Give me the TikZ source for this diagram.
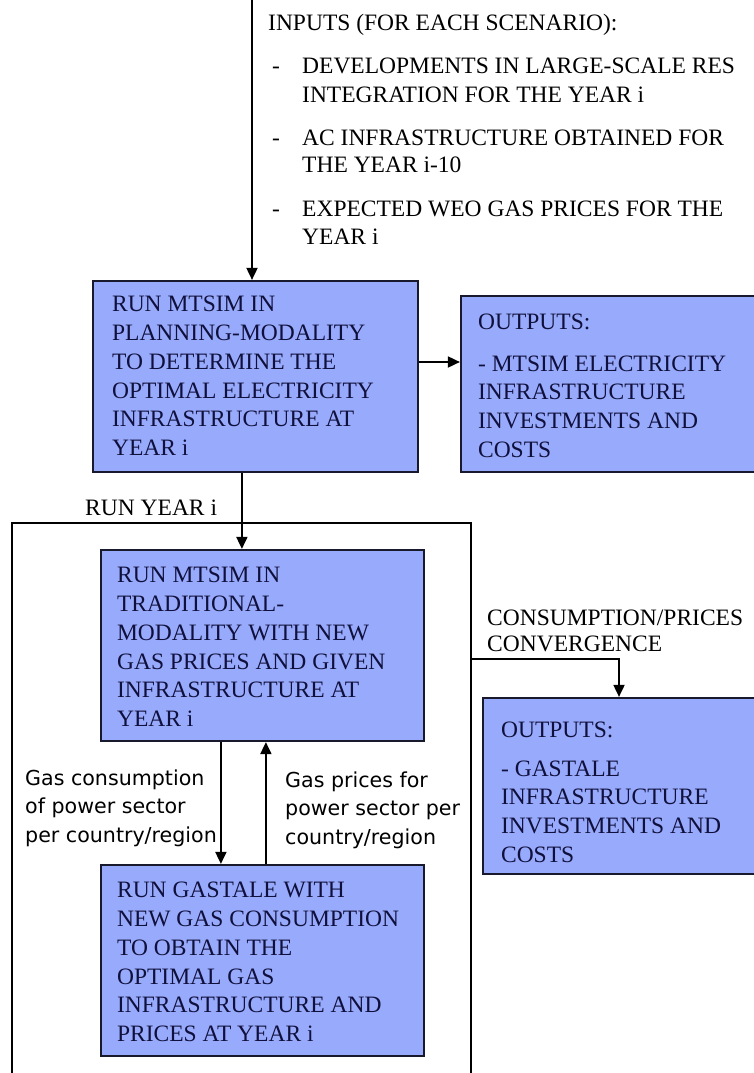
\documentclass[tikz,border=0pt]{standalone}
\usepackage{fontspec}
\setmainfont{Liberation Serif}
\newfontfamily\labelsans{DejaVu Sans}
\usetikzlibrary{arrows.meta,calc}
\definecolor{boxfill}{RGB}{152,170,252}
\definecolor{boxline}{RGB}{25,25,45}
\definecolor{boxtext}{RGB}{16,16,60}
\newcommand\mylines[1]{\begin{tabular}[t]{@{}l@{}}#1\end{tabular}}
\begin{document}
\begin{tikzpicture}[x=1pt,y=-1pt,
  box/.style={draw=boxline, line width=2.2pt, fill=boxfill, inner sep=0pt},
  btxt/.style={anchor=base west, inner sep=0pt, text=boxtext, font=\fontsize{23.5}{28.7}\selectfont},
  otxt/.style={anchor=base west, inner sep=0pt, text=black, font=\fontsize{23.5}{28.6}\selectfont},
  stxt/.style={anchor=base west, inner sep=0pt, text=black, font=\labelsans\fontsize{20.6}{28.6}\selectfont},
  conn/.style={line width=1.8pt, draw=black},
  arr/.style={conn, -{Triangle[length=12pt,width=11pt]}}]

\useasboundingbox (0,0) rectangle (754,1073);

% boxes
\node[box, minimum width=325pt, minimum height=191pt] (b1) at (255.5,376.5) {};
\node[box, minimum width=294pt, minimum height=176pt] (b2) at (608,384) {};
\node[box, minimum width=323pt, minimum height=191pt] (b3) at (262.5,645.5) {};
\node[box, minimum width=272pt, minimum height=176pt] (b4) at (619,786) {};
\node[box, minimum width=323pt, minimum height=191pt] (b5) at (262.5,960.5) {};

% box texts
\node[btxt] (t1) at ($(b1.north west)+(20,32)$) {\mylines{RUN MTSIM IN\\PLANNING-MODALITY\\TO DETERMINE THE\\OPTIMAL ELECTRICITY\\INFRASTRUCTURE AT\\YEAR i}};
\node[btxt] (t2) at ($(b2.north west)+(18,35)$) {\mylines{OUTPUTS:\\[12.4pt]- MTSIM ELECTRICITY\\INFRASTRUCTURE\\INVESTMENTS AND\\COSTS}};
\node[btxt] (t3) at ($(b3.north west)+(17,34)$) {\mylines{RUN MTSIM IN\\TRADITIONAL-\\MODALITY WITH NEW\\GAS PRICES AND GIVEN\\INFRASTRUCTURE AT\\YEAR i}};
\node[btxt] (t4) at ($(b4.north west)+(19,41)$) {\mylines{OUTPUTS:\\[9.4pt]- GASTALE\\INFRASTRUCTURE\\INVESTMENTS AND\\COSTS}};
\node[btxt] (t5) at ($(b5.north west)+(17,34)$) {\mylines{RUN GASTALE WITH\\NEW GAS CONSUMPTION\\TO OBTAIN THE\\OPTIMAL GAS\\INFRASTRUCTURE AND\\PRICES AT YEAR i}};

% free texts
\node[otxt] (inputs) at (268,31) {\begin{tabular}[t]{@{}l@{}l@{}}
\multicolumn{2}{@{}l@{}}{INPUTS (FOR EACH SCENARIO):}\\[14pt]
\makebox[34pt][l]{\hspace*{4pt}-} & DEVELOPMENTS IN LARGE-SCALE RES\\
 & INTEGRATION FOR THE YEAR i\\[15pt]
\makebox[34pt][l]{\hspace*{4pt}-} & AC INFRASTRUCTURE OBTAINED FOR\\[-1.5pt]
 & THE YEAR i-10\\[15pt]
\makebox[34pt][l]{\hspace*{4pt}-} & EXPECTED WEO GAS PRICES FOR THE\\[-1pt]
 & YEAR i
\end{tabular}};
\node[otxt] (runyear) at (85,515) {RUN YEAR i};
\node[otxt] (conv) at (487,625) {\mylines{CONSUMPTION/PRICES\\[-2pt]CONVERGENCE}};
\node[stxt] (lconsum) at (25,785) {\mylines{Gas consumption\\of power sector\\per country/region}};
\node[stxt] (lprice) at (285,787) {\mylines{Gas prices for\\power sector per\\country/region}};

% frame (open at the bottom)
\draw[conn] (12,1076) -- (12,523) -- (471,523) -- (471,1076);

% connectors
\coordinate (top) at (252,0);
\draw[arr] (top) -- (top |- b1.north);
\coordinate (a12) at ($(b1.east)+(0,-14.5)$);
\draw[arr] (a12) -- (a12 -| b2.west);
\coordinate (a13) at ($(b1.south west)+(150,0)$);
\draw[arr] (a13) -- (a13 |- b3.north);
\coordinate (fr) at (471,659);
\draw[arr] (fr) -| (b4.north);
\coordinate (d1) at ($(b3.south west)+(121,0)$);
\draw[arr] (d1) -- (d1 |- b5.north);
\coordinate (u1) at ($(b5.north west)+(166,0)$);
\draw[arr] (u1) -- (u1 |- b3.south);
\end{tikzpicture}
\end{document}
